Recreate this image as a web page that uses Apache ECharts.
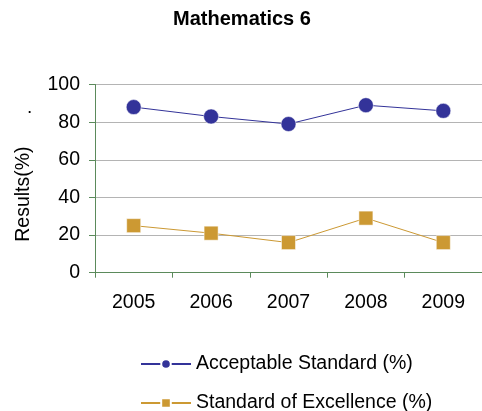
<!DOCTYPE html>
<html><head><meta charset="utf-8">
<script src="https://cdn.jsdelivr.net/npm/echarts@6/dist/echarts.min.js"></script>
<style>html,body{margin:0;padding:0;background:#fff}#c{width:482px;height:411px}</style>
</head><body><div id="c"></div>
<script>
const categories = ['2005','2006','2007','2008','2009'];
const acceptable = [88, 83, 79, 89, 86];
const excellence = [25, 21, 16, 29, 16];
const yTicks = {min: 0, max: 100, interval: 20};
const seriesNames = ['Acceptable Standard (%)', 'Standard of Excellence (%)'];

const chart = echarts.init(document.getElementById('c'), null, {renderer: 'canvas'});
const font = '"Liberation Sans", Arial, sans-serif';
const legendText = {fontFamily: font, fontSize: 19.5, color: '#000'};
chart.setOption({
  animation: false,
  backgroundColor: '#fff',
  title: {
    text: 'Mathematics 6', left: 237, textAlign: 'center', top: 4,
    textStyle: {fontFamily: font, fontSize: 20, fontWeight: 'bold', color: '#000'}
  },
  grid: {left: 95, right: -1, top: 84.5, bottom: 411 - 272.7, containLabel: false},
  xAxis: {
    type: 'category', data: categories, boundaryGap: true,
    axisLine: {lineStyle: {color: '#5b8a5b', width: 1}},
    axisTick: {show: true, length: 5, inside: false, lineStyle: {color: '#5b8a5b'}},
    axisLabel: {margin: 20, fontFamily: font, fontSize: 19.5, color: '#000'},
    splitLine: {show: false}
  },
  yAxis: {
    type: 'value', min: yTicks.min, max: yTicks.max, interval: yTicks.interval,
    name: 'Results(%)', nameLocation: 'middle', nameGap: 61, nameRotate: 90,
    nameTextStyle: {fontFamily: font, fontSize: 19.5, color: '#000', padding: [0,31,0,0]},
    axisLine: {show: true, lineStyle: {color: '#5b8a5b', width: 1}},
    axisTick: {show: true, length: 6, inside: false, lineStyle: {color: '#5b8a5b'}},
    axisLabel: {margin: 15, fontFamily: font, fontSize: 19.5, color: '#000'},
    splitLine: {show: true, lineStyle: {color: '#b4b4b4', width: 1}}
  },
  legend: [
    {left: 140, top: 354, padding: 0, itemWidth: 50, itemHeight: 12, itemGap: 7,
     textStyle: legendText, data: [seriesNames[0]]},
    {left: 140, top: 393, padding: 0, itemWidth: 50, itemHeight: 12, itemGap: 7,
     textStyle: legendText, data: [seriesNames[1]]}
  ],
  graphic: [{type: 'text', left: 27, top: 98, style: {text: '.', fontFamily: font, fontSize: 19, fill: '#000'}}],
  series: [
    {
      name: seriesNames[0], type: 'line', data: acceptable,
      symbol: 'circle', symbolSize: 15,
      lineStyle: {color: '#333399', width: 1},
      itemStyle: {color: '#333399', borderColor: '#ffffff', borderWidth: 0.5}
    },
    {
      name: seriesNames[1], type: 'line', data: excellence,
      symbol: 'rect', symbolSize: 14,
      lineStyle: {color: '#cc9933', width: 1},
      itemStyle: {color: '#cc9933', borderColor: '#ffffff', borderWidth: 0.5}
    }
  ]
});
</script></body></html>
